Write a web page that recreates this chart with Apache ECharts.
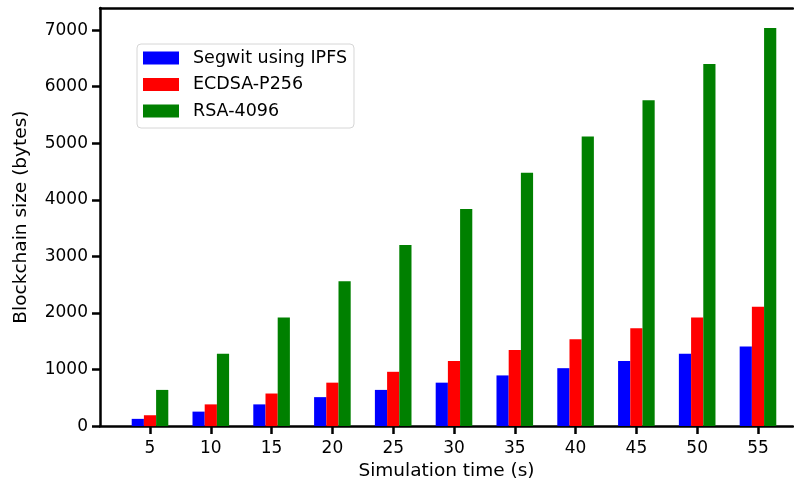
<!DOCTYPE html>
<html>
<head>
<meta charset="utf-8">
<style>
  html, body { margin: 0; padding: 0; background: #fff; }
  #chart { width: 794px; height: 486px; }
</style>
<script src="https://cdn.jsdelivr.net/npm/echarts@6/dist/echarts.min.js"></script>
</head>
<body>
<div id="chart"></div>
<script>
// Simulation time (s)
const simTimes = [5, 10, 15, 20, 25, 30, 35, 40, 45, 50, 55];

// Blockchain size (bytes) per signature scheme
const segwitIpfs = [128, 256, 384, 512, 640, 768, 896, 1024, 1152, 1280, 1408];
const ecdsaP256 = [192, 384, 576, 768, 960, 1152, 1344, 1536, 1728, 1920, 2112];
const rsa4096 = [640, 1280, 1920, 2560, 3200, 3840, 4480, 5120, 5760, 6400, 7040];

const seriesNames = ['Segwit using IPFS', 'ECDSA-P256', 'RSA-4096'];
const seriesColors = ['#0000ff', '#ff0000', '#008000'];
const yTicks = [0, 1000, 2000, 3000, 4000, 5000, 6000, 7000];

const font = 'DejaVu Sans';
const chart = echarts.init(document.getElementById('chart'), null, { renderer: 'canvas' });

const toPairs = vals => simTimes.map((t, i) => [t, vals[i]]);

const barSeries = [segwitIpfs, ecdsaP256, rsa4096].map((vals, i) => ({
  name: seriesNames[i],
  type: 'bar',
  data: toPairs(vals),
  barWidth: 12.2,
  barGap: '0%',
  itemStyle: { color: seriesColors[i] },
  emphasis: { disabled: true },
  animation: false
}));

const spine = { show: true, lineStyle: { color: '#000', width: 2.5 } };
const tick = { show: true, length: 8, lineStyle: { color: '#000', width: 2.5 } };

chart.setOption({
  animation: false,
  backgroundColor: '#ffffff',
  textStyle: { fontFamily: font },
  grid: { left: 100, right: 1, top: 8, bottom: 58, containLabel: false },
  legend: {
    orient: 'vertical',
    left: 137,
    top: 44,
    padding: [5, 7, 8, 6],
    itemWidth: 36,
    itemHeight: 13,
    itemGap: 8.5,
    borderColor: '#d6d6d6',
    borderWidth: 1,
    borderRadius: 4,
    backgroundColor: 'rgba(255,255,255,0.8)',
    icon: 'rect',
    selectedMode: false,
    data: seriesNames,
    textStyle: { fontFamily: font, fontSize: 17.5, color: '#000', padding: [0, 0, 0, 9] }
  },
  xAxis: [{
    type: 'value',
    min: 0.888,
    max: 57.88,
    name: 'Simulation time (s)',
    nameLocation: 'middle',
    nameGap: 32,
    nameTextStyle: { fontFamily: font, fontSize: 18.5, color: '#000' },
    axisLine: spine,
    axisTick: Object.assign({ customValues: simTimes }, tick),
    axisLabel: { fontFamily: font, fontSize: 17, color: '#000', margin: 14, customValues: simTimes, formatter: v => String(v) },
    splitLine: { show: false }
  }, {
    type: 'value',
    position: 'top',
    min: 0.888,
    max: 57.88,
    axisLine: spine,
    axisTick: { show: false },
    axisLabel: { show: false },
    splitLine: { show: false }
  }],
  yAxis: {
    type: 'value',
    min: 0,
    max: 7392,
    name: 'Blockchain size (bytes)',
    nameLocation: 'middle',
    nameGap: 69,
    nameRotate: 90,
    nameTextStyle: { fontFamily: font, fontSize: 18.5, color: '#000' },
    axisLine: spine,
    axisTick: Object.assign({ customValues: yTicks }, tick),
    axisLabel: { fontFamily: font, fontSize: 17, color: '#000', margin: 12, customValues: yTicks, formatter: v => String(v) },
    splitLine: { show: false }
  },
  series: barSeries
});
</script>
</body>
</html>
